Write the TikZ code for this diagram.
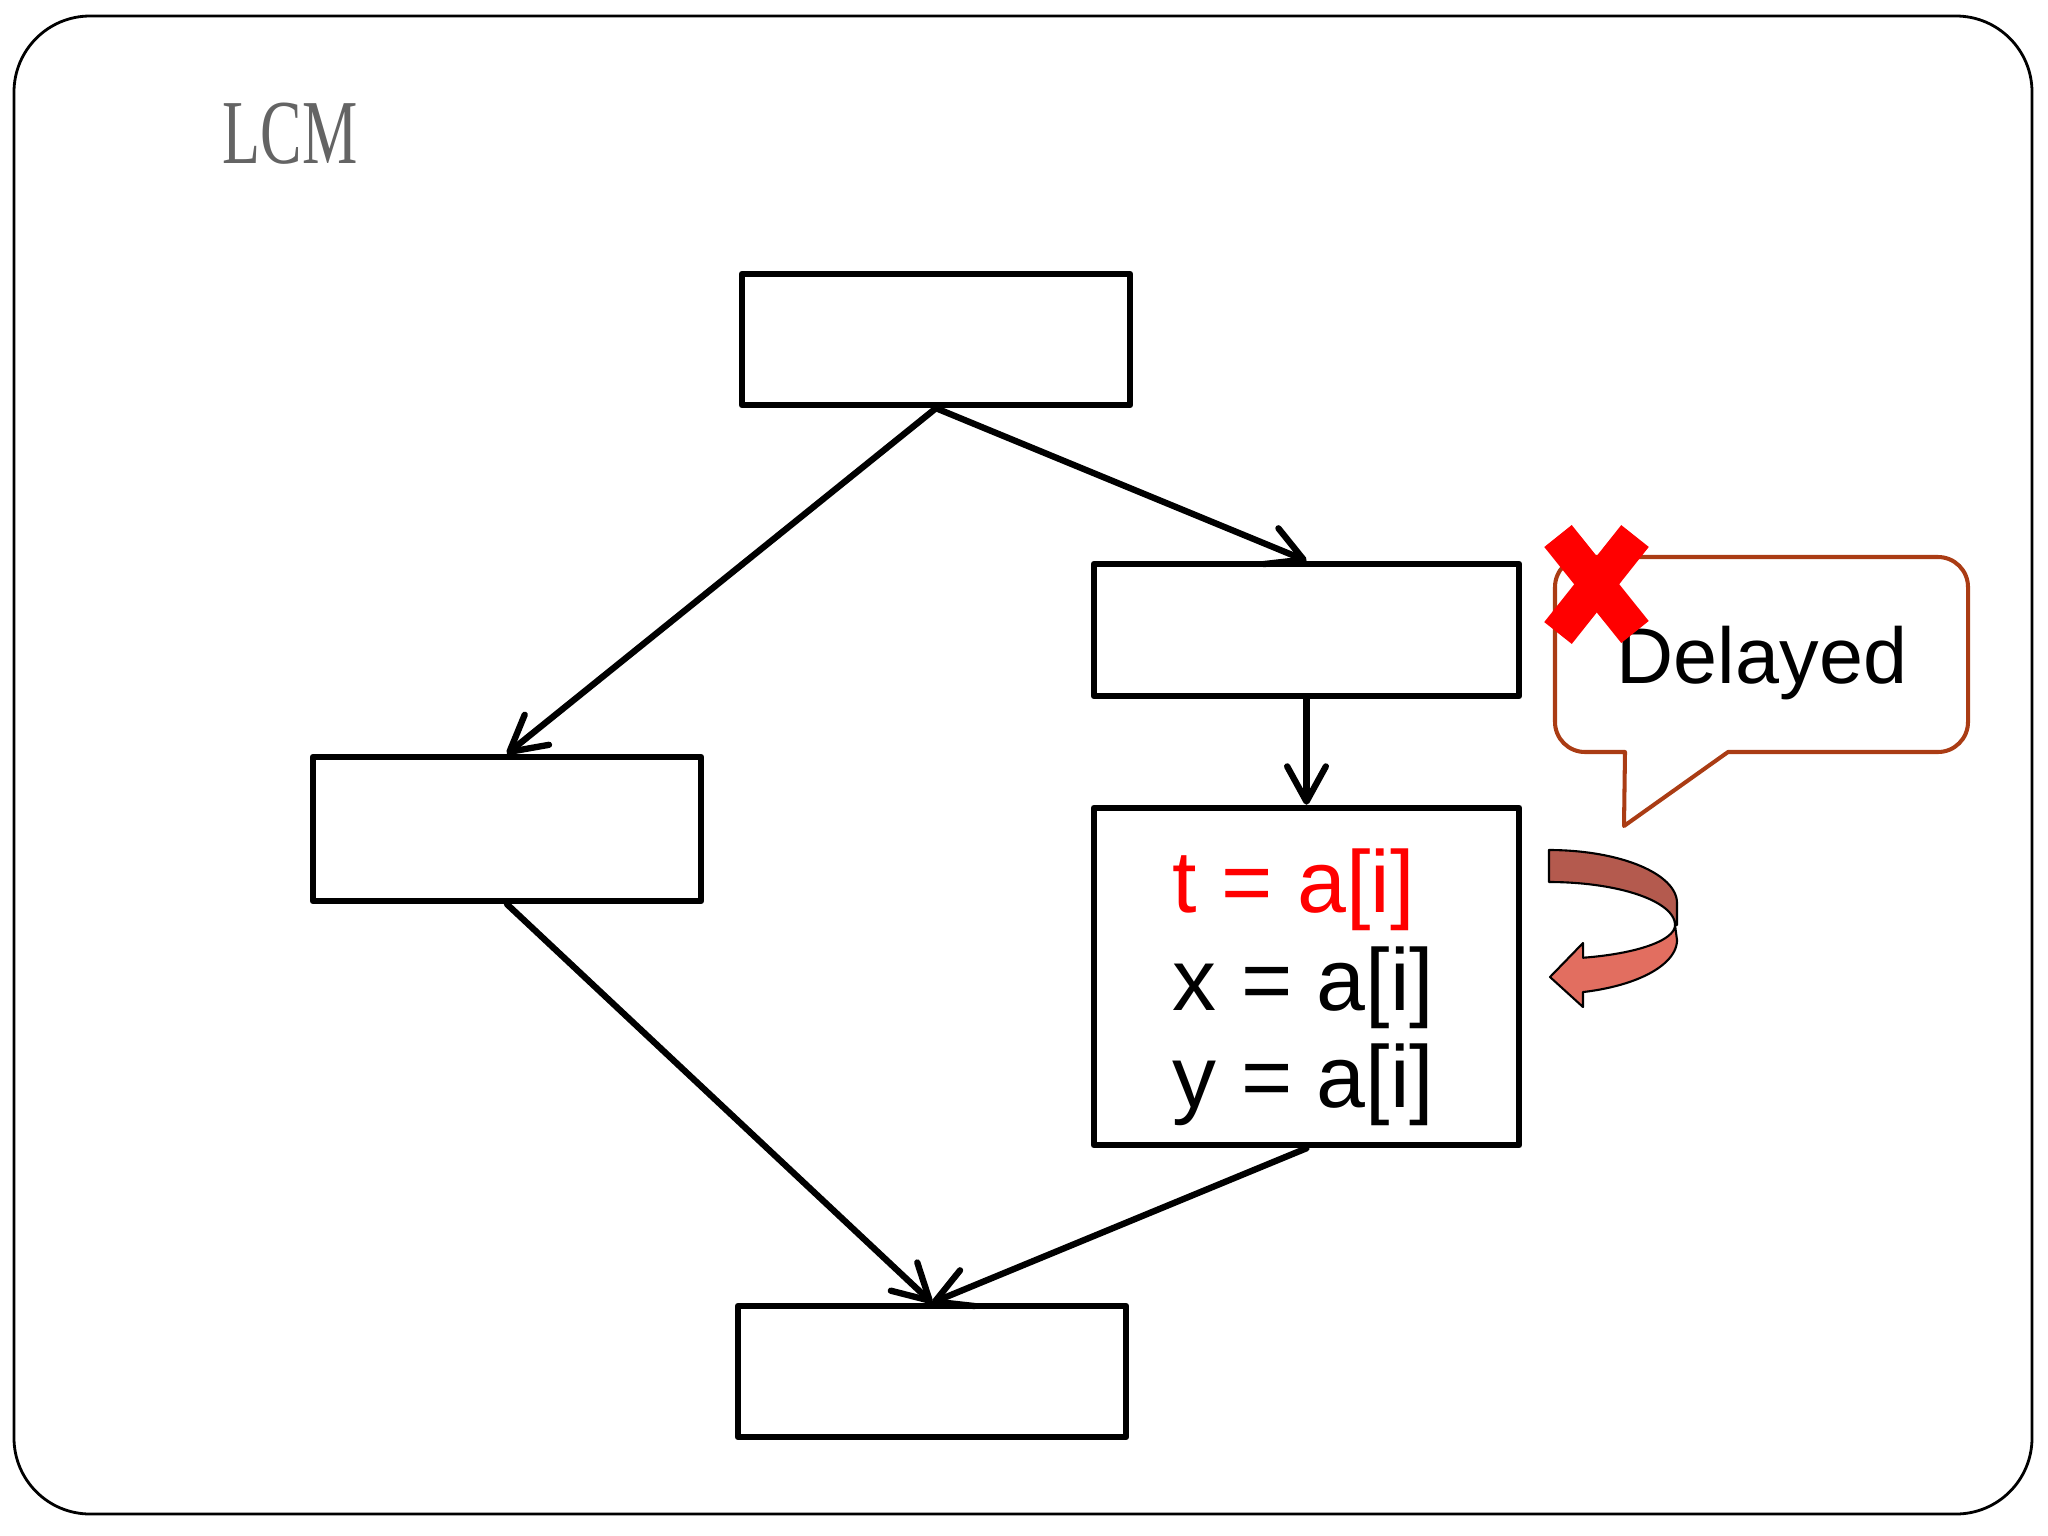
\documentclass[tikz,border=0pt]{standalone}
\usepackage{fontspec}
\setmainfont{Liberation Sans}
\newfontfamily\titlefont[FakeStretch=0.68]{Liberation Serif}
\usetikzlibrary{arrows.meta}
\definecolor{calloutbrown}{RGB}{170,60,20}
\definecolor{bandback}{RGB}{180,90,78}
\definecolor{bandfront}{RGB}{226,110,96}
\definecolor{titlegray}{RGB}{100,100,100}

\begin{document}
\begin{tikzpicture}[
  x=0.01cm,
  y=-0.01cm,
  blk/.style={draw, line width=1.8pt, line join=round, minimum width=3.88cm, minimum height=1.31cm, inner sep=0pt},
  flow/.style={line width=1.8pt, line cap=round, -{Straight Barb[length=10pt,width=11pt,round]}},
  band/.style={draw=black, line width=0.6pt, line join=round},
  code/.style={anchor=base west, inner sep=0pt, font=\fontsize{25}{29}\selectfont}
]
  \useasboundingbox (0,0) rectangle (2048,1536);
  \draw[line width=0.8pt, rounded corners=0.76cm] (14,16) rectangle (2032,1514);
  \node[anchor=base west, inner sep=0pt, text=titlegray, font=\titlefont\fontsize{26}{30}\selectfont] (title) at (222,163) {LCM};

  \node[blk] (top) at (936,339.5) {};
  \node[blk, minimum width=4.25cm, minimum height=1.32cm] (mid) at (1306.5,630) {};
  \node[blk, minimum height=1.44cm] (left) at (507,829) {};
  \node[blk, minimum width=4.25cm, minimum height=3.37cm] (load) at (1306.5,976.5) {};
  \node[blk] (bot) at (932,1371.5) {};

  \node[code, text=red] (tline) at (1172,912) {t = a[i]};
  \node[code] (xline) at (1172,1010) {x = a[i]};
  \node[code] (yline) at (1172,1107) {y = a[i]};

  \draw[flow] (top.south) -- (left.north);
  \draw[flow] (top.south) -- (mid.north);
  \draw[flow] (mid.south) -- (load.north);
  \draw[flow] (left.south) -- (bot.north);
  \draw[flow] (load.south) -- (bot.north);

  \draw[calloutbrown, line width=1.15pt, line join=round]
    (1624,826) -- (1728,752) [rounded corners=0.3cm] -- (1968,752) -- (1968,557) -- (1555,557) -- (1555,752) [sharp corners] -- (1625,752) -- cycle;
  \node[anchor=base, inner sep=0pt, font=\fontsize{22.5}{26}\selectfont] (dly) at (1762,683) {Delayed};

  \draw[red, line width=10pt] (1558,536) -- (1635,632);
  \draw[red, line width=10pt] (1635,536) -- (1558,633);

  \draw[band, fill=bandback]
    plot[domain=90:0, samples=40] ({1549+128*cos(\x)},{903-53*sin(\x)})
    -- (1677,925)
    -- plot[domain=0:90, samples=40] ({1549+126*cos(\x)},{925-43*sin(\x)}) -- cycle;
  \draw[band, fill=bandfront]
    plot[domain=0:-74.6, samples=40] ({1549+128*cos(\x)},{940-54*sin(\x)})
    -- (1583,1007) -- (1550,977) -- (1583,943)
    -- plot[domain=-74.3:0, samples=40] ({1549+126*cos(\x)},{925-34*sin(\x)}) -- cycle;
\end{tikzpicture}
\end{document}
